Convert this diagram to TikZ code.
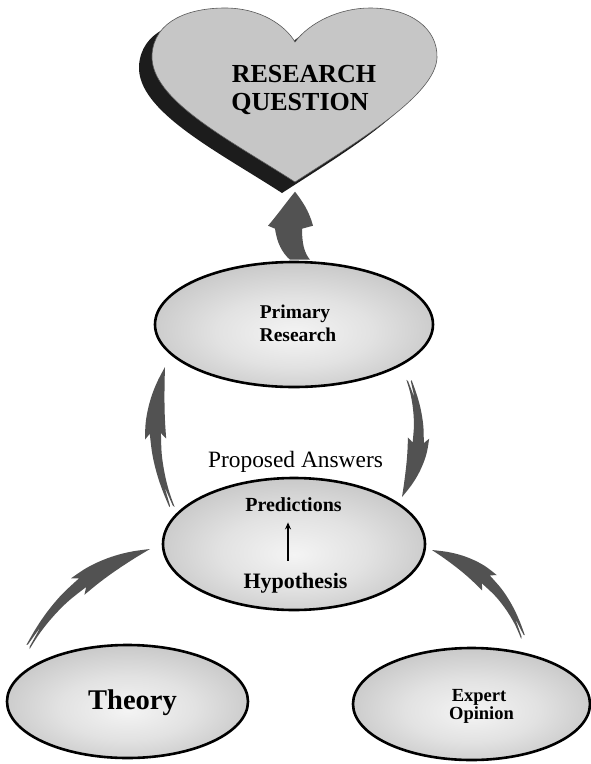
\documentclass[tikz,border=0pt]{standalone}
\usepackage{fontspec}
\setmainfont{Liberation Serif}
\usetikzlibrary{shapes.geometric,calc,arrows.meta}

\definecolor{arrowgray}{HTML}{525252}
\definecolor{heartgray}{HTML}{C6C6C6}
\definecolor{shadowdark}{HTML}{1C1C1C}
\definecolor{ovalmid}{HTML}{F4F4F4}
\definecolor{ovalring}{HTML}{E2E2E2}
\definecolor{ovaledge}{HTML}{9C9C9C}
\pgfdeclareradialshading{ovalshade}{\pgfpoint{0bp}{-4bp}}{%
  color(0bp)=(ovalmid); color(14bp)=(ovalring); color(50bp)=(ovaledge)}

\tikzset{
  oval/.style={ellipse, draw=black, line width=2.6pt, shade, shading=ovalshade, inner sep=0pt},
  boldlbl/.style={font=\bfseries\fontsize{#1}{#1}\selectfont, inner sep=0pt, anchor=base},
  plainlbl/.style={font=\fontsize{#1}{#1}\selectfont, inner sep=0pt, anchor=base},
  bladefill/.style={fill=arrowgray},
}

% centre-line offset of a curved blade arrow at fraction #1 of its length
\newcommand\bladec[1]{(4*\bladebow*(#1)*(1-(#1)))}

% curved blade arrow with forked tail: from #1 (tail) to #2 (tip), bowing #3 to the left
\newcommand\bladearrow[3]{%
  \pgfpointdiff{\pgfpointanchor{#1}{center}}{\pgfpointanchor{#2}{center}}%
  \pgfgetlastxy{\bladedx}{\bladedy}%
  \pgfmathsetmacro\bladeang{atan2(\bladedy,\bladedx)}%
  \pgfmathsetmacro\bladelen{veclen(\bladedx,\bladedy)}%
  \def\bladebow{#3}%
  \begin{scope}[shift={(#1)}, rotate=\bladeang, x=1pt, y=1pt]
    \fill[bladefill]
      ({\bladelen},0)
      -- plot[smooth, tension=0.6] coordinates {
        ({\bladelen},0)
        ({0.9*\bladelen},{\bladec{0.9}+3.6})
        ({0.8*\bladelen},{\bladec{0.8}+6.4})
        ({0.7*\bladelen},{\bladec{0.7}+8.4})
        ({0.6*\bladelen},{\bladec{0.6}+9.8})
        ({0.49*\bladelen},{\bladec{0.49}+10.6})}
      -- ({0.53*\bladelen},{\bladec{0.53}+5.6})
      -- plot[smooth, tension=0.6] coordinates {
        ({0.53*\bladelen},{\bladec{0.53}+5.6})
        ({0.4*\bladelen},{\bladec{0.4}+4.8})
        ({0.3*\bladelen},{\bladec{0.3}+4.2})
        ({0.2*\bladelen},{\bladec{0.2}+3.6})
        ({0.1*\bladelen},{\bladec{0.1}+3.0})
        (0,2.6)}
      -- ({0.01*\bladelen},{\bladec{0.01}+1.4})
      -- ({0.15*\bladelen},{\bladec{0.15}})
      -- ({0.01*\bladelen},{\bladec{0.01}-1.4})
      -- (0,-2.6)
      -- plot[smooth, tension=0.6] coordinates {
        (0,-2.6)
        ({0.1*\bladelen},{\bladec{0.1}-3.0})
        ({0.2*\bladelen},{\bladec{0.2}-3.6})
        ({0.3*\bladelen},{\bladec{0.3}-4.2})
        ({0.4*\bladelen},{\bladec{0.4}-4.8})
        ({0.53*\bladelen},{\bladec{0.53}-5.6})}
      -- ({0.49*\bladelen},{\bladec{0.49}-10.6})
      -- plot[smooth, tension=0.6] coordinates {
        ({0.49*\bladelen},{\bladec{0.49}-10.6})
        ({0.6*\bladelen},{\bladec{0.6}-9.8})
        ({0.7*\bladelen},{\bladec{0.7}-8.4})
        ({0.8*\bladelen},{\bladec{0.8}-6.4})
        ({0.9*\bladelen},{\bladec{0.9}-3.6})
        ({\bladelen},0)}
      -- cycle;
  \end{scope}}

\begin{document}
\begin{tikzpicture}[x=1pt, y=-1pt]
  \useasboundingbox[fill=white] (0,0) rectangle (591,764);

  % heart: drop shadow, then the face
  \begin{scope}[shift={(-13,11)}]
    \fill[shadowdark]
      (295,182) .. controls (230,140) and (150,100) .. (152,55)
      .. controls (154,20) and (190,8) .. (225,8)
      .. controls (260,8) and (285,25) .. (295,42)
      .. controls (310,22) and (340,8) .. (370,8)
      .. controls (410,8) and (438,28) .. (437,58)
      .. controls (435,95) and (360,140) .. (295,182) -- cycle;
  \end{scope}
  \filldraw[fill=heartgray, draw=black!65, line width=0.6pt]
    (295,182) .. controls (230,140) and (150,100) .. (152,55)
    .. controls (154,20) and (190,8) .. (225,8)
    .. controls (260,8) and (285,25) .. (295,42)
    .. controls (310,22) and (340,8) .. (370,8)
    .. controls (410,8) and (438,28) .. (437,58)
    .. controls (435,95) and (360,140) .. (295,182) -- cycle;
  \coordinate (heartTip) at (295,182);
  \node[boldlbl=26] (rq1) at (304,82) {RESEARCH};
  \node[boldlbl=26] (rq2) at (300,110) {QUESTION};

  % the four ovals
  \node[oval, minimum width=278pt, minimum height=125pt] (pr) at (294,324.5) {};
  \node[oval, minimum width=262pt, minimum height=132pt] (mid) at (294,544) {};
  \node[oval, minimum width=241pt, minimum height=113pt] (th) at (127.5,701.5) {};
  \node[oval, minimum width=237pt, minimum height=112pt] (ex) at (471.5,704) {};

  % labels
  \node[boldlbl=19.5] (prA) at (295,318) {Primary};
  \node[boldlbl=19.5] (prB) at (298,341) {Research};
  \node[plainlbl=23.4] (prop) at (295.5,467) {Proposed Answers};
  \node[boldlbl=20] (pred) at (293.5,511) {Predictions};
  \node[boldlbl=22] (hyp) at (295.5,588) {Hypothesis};
  \node[boldlbl=28.5] (thl) at (132.5,709) {Theory};
  \node[boldlbl=18.5] (exA) at (479,701) {Expert};
  \node[boldlbl=18.5] (exB) at (481.5,719) {Opinion};

  % hypothesis leads to predictions
  \coordinate (hypUp) at ($(hyp.north)+(-7.5,-12)$);
  \coordinate (predDown) at ($(pred.south)+(-5.5,11)$);
  \draw[line width=1.2pt, -{Stealth[length=7pt, width=6pt]}] (hypUp) -- (predDown);

  % broad arrow from Primary Research up to the heart
  \begin{scope}[shift={(pr.north)}]
    \fill[arrowgray]
      (-4,-1) .. controls (-12,-8) and (-17,-18) .. (-19,-32)
      -- (-26,-35)
      .. controls (-18,-44) and (-8,-58) .. (1,-69)
      .. controls (8,-60) and (15,-50) .. (19,-35)
      -- (8,-32)
      .. controls (8,-18) and (10,-8) .. (16,-1) -- cycle;
  \end{scope}

  % ends of the curved blade arrows
  \coordinate (lvTail) at ($(mid.center)+(-122,-37)$);
  \coordinate (lvTip)  at ($(pr.center)+(-129,42.5)$);
  \coordinate (rvTail) at ($(pr.center)+(115,55.5)$);
  \coordinate (rvTip)  at ($(mid.center)+(108,-47)$);
  \coordinate (thTail) at ($(th.center)+(-99.5,-54.5)$);
  \coordinate (thTip)  at ($(mid.center)+(-144,5)$);
  \coordinate (exTail) at ($(ex.center)+(51.5,-67)$);
  \coordinate (exTip)  at ($(mid.center)+(138,6)$);

  \bladearrow{lvTail}{lvTip}{13}
  \bladearrow{rvTail}{rvTip}{13}
  \bladearrow{thTail}{thTip}{16}
  \bladearrow{exTail}{exTip}{-16}
\end{tikzpicture}
\end{document}
